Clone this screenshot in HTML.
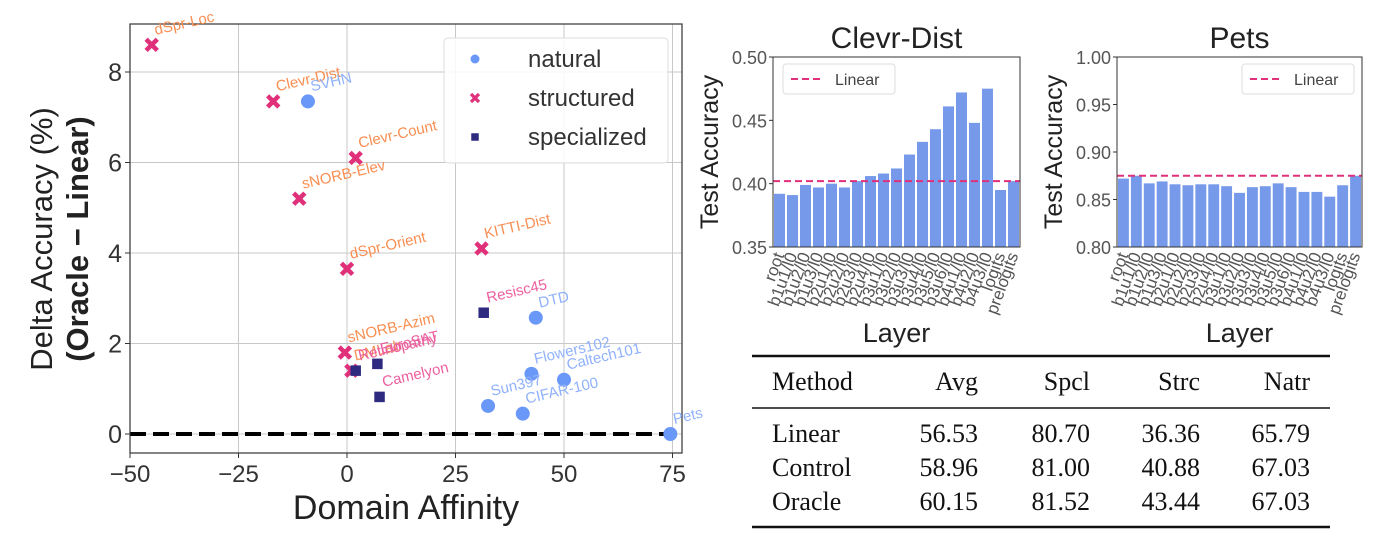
<!DOCTYPE html>
<html><head><meta charset="utf-8">
<style>
body{margin:0;background:#fff;width:1390px;height:546px;overflow:hidden;}
svg{position:absolute;left:0;top:0;}
text{font-family:"Liberation Sans","DejaVu Sans",sans-serif;}
.serif{font-family:"Liberation Serif",serif;}
</style></head>
<body>
<svg id="fig" width="1390" height="546" viewBox="0 0 1390 546"></svg>
<script>
// ---- scatter data ----
const dsNames=["dSpr-Loc","Clevr-Dist","SVHN","Clevr-Count","sNORB-Elev","KITTI-Dist","dSpr-Orient","sNORB-Azim","DMLab","Retinopathy","EuroSAT","Camelyon","Resisc45","DTD","Flowers102","Caltech101","Sun397","CIFAR-100","Pets"];
const dsGroup=["structured","structured","natural","structured","structured","structured","structured","structured","structured","specialized","specialized","specialized","specialized","natural","natural","natural","natural","natural","natural"];
const dsAffinity=[-45,-17,-9,2,-11,31,0,-0.5,1,2,7,7.5,31.5,43.5,42.5,50,32.5,40.5,74.5];
const dsDelta=[8.6,7.35,7.35,6.1,5.2,4.1,3.65,1.8,1.4,1.4,1.55,0.82,2.68,2.57,1.33,1.2,0.62,0.45,0.0];
const xTicks=[-50,-25,0,25,50,75];
const yTicks=[0,2,4,6,8];
// ---- bar data ----
const layers=["root","b1u1/l0","b1u2/l0","b1u3/l0","b2u1/l0","b2u2/l0","b2u3/l0","b2u4/l0","b3u1/l0","b3u2/l0","b3u3/l0","b3u4/l0","b3u5/l0","b3u6/l0","b4u1/l0","b4u2/l0","b4u3/l0","logits","prelogits"];
const clevrAcc=[0.392,0.391,0.399,0.397,0.400,0.397,0.402,0.406,0.408,0.412,0.423,0.433,0.443,0.461,0.472,0.448,0.475,0.395,0.402];
const clevrLinear=0.402;
const clevrTicks=[0.35,0.40,0.45,0.50];
const petsAcc=[0.872,0.875,0.867,0.869,0.866,0.865,0.866,0.866,0.864,0.857,0.863,0.864,0.867,0.863,0.858,0.858,0.853,0.865,0.875];
const petsLinear=0.875;
const petsTicks=[0.80,0.85,0.90,0.95,1.00];
// ---- table ----
const tblHead=["Method","Avg","Spcl","Strc","Natr"];
const tblRows=[["Linear","56.53","80.70","36.36","65.79"],["Control","58.96","81.00","40.88","67.03"],["Oracle","60.15","81.52","43.44","67.03"]];

const svg=document.getElementById('fig');
const NS="http://www.w3.org/2000/svg";
function mk(tag,attrs,parent,txt){const e=document.createElementNS(NS,tag);for(const k in attrs)e.setAttribute(k,attrs[k]);if(txt!==undefined)e.textContent=txt;(parent||svg).appendChild(e);return e;}

// ===== scatter =====
const L=130,R=682,T=24,B=453;
const sx=v=>347+v*(108.5/25);
const sy=v=>434-v*(90.5/2);
const gS=mk('g',{});


xTicks.forEach(t=>{const l=mk('line',{x1:sx(t),x2:sx(t),y1:T,y2:B,stroke:'#c8c8c8','stroke-width':1},gS);
 const tx=mk('text',{x:sx(t),y:482,'text-anchor':'middle','font-size':24,fill:'#333'},gS,(t<0?'\u2212':'')+Math.abs(t));
 mk('line',{x1:sx(t),x2:sx(t),y1:B,y2:B+5,stroke:'#333'},gS);});
yTicks.forEach(t=>{const l=mk('line',{x1:L,x2:R,y1:sy(t),y2:sy(t),stroke:'#c8c8c8','stroke-width':1},gS);
 const tx=mk('text',{x:L-8,y:sy(t)+9,'text-anchor':'end','font-size':25,fill:'#333'},gS,String(t));
 mk('line',{x1:L-5,x2:L,y1:sy(t),y2:sy(t),stroke:'#333'},gS);});
const zl=mk('line',{x1:L,x2:R,y1:sy(0),y2:sy(0),stroke:'#000','stroke-width':4,'stroke-dasharray':'16,7'},gS);

const fr=mk('rect',{x:L,y:T,width:R-L,height:B-T,fill:'none',stroke:'#333','stroke-width':1.2},gS);

const colMark={natural:'#6a98f8',structured:'#e0307a',specialized:'#2e2a80'};
const colLab={natural:'#8fb1fb',structured:'#f98e52',specialized:'#ec5f9e'};
function marker(g,grp,x,y,s){
 if(grp==='natural')return mk('circle',{cx:x,cy:y,r:s,fill:colMark.natural},g);
 if(grp==='specialized')return mk('rect',{x:x-s*0.75,y:y-s*0.75,width:s*1.5,height:s*1.5,fill:colMark.specialized},g);
 const d=s*0.8;return mk('path',{d:`M${x-d},${y-d}L${x+d},${y+d}M${x+d},${y-d}L${x-d},${y+d}`,stroke:colMark.structured,'stroke-width':s*0.65,fill:'none'},g);
}
dsNames.forEach((n,i)=>{
 const x=sx(dsAffinity[i]),y=sy(dsDelta[i]);
 const m=marker(gS,dsGroup[i],x,y,7);
 
 
 const t=mk('text',{x:x+4,y:y-10,'font-size':15,fill:colLab[dsGroup[i]],transform:`rotate(-13 ${x+4} ${y-10})`},gS,n);
 
 
});
// legend
const lg=mk('g',{});


mk('rect',{x:444,y:38,width:224,height:125,rx:4,fill:'#fff','fill-opacity':0.85,stroke:'#ddd'},lg);
[['natural',59],['structured',98],['specialized',137]].forEach(([g,y])=>{
 marker(lg,g,475,y,g==='natural'?4.5:5);
 const t=mk('text',{x:528,y:y+8,'font-size':24,fill:'#333'},lg,g);
 
 
});
let t1=mk('text',{x:406,y:519,'text-anchor':'middle','font-size':34,fill:'#222'},svg,'Domain Affinity');

let t2=mk('text',{x:0,y:0,'text-anchor':'middle','font-size':31,fill:'#222',transform:'translate(52 239) rotate(-90)'},svg,'Delta Accuracy (%)');

let t3=mk('text',{x:0,y:0,'text-anchor':'middle','font-size':31,'font-weight':'bold',fill:'#222',transform:'translate(88 239) rotate(-90)'},svg,'(Oracle \u2212 Linear)');


// ===== bar charts =====
function barChart(name,title,x0,x1,vals,lin,ticks,legendRight){
 const top=57,bot=247,lo=ticks[0],hi=ticks[ticks.length-1];
 const by=v=>bot-(v-lo)/(hi-lo)*(bot-top);
 const g=mk('g',{});
 
 
 const n=vals.length,step=(x1-x0)/n;
 vals.forEach((v,i)=>{const r=mk('rect',{x:x0+i*step+1,y:by(v),width:step-2,height:bot-by(v),fill:'#7699ea'},g);
  
  const lx=x0+(i+0.5)*step+5,ly=bot+8;
  const t=mk('text',{x:lx,y:ly,'text-anchor':'end','font-size':17,fill:'#555',transform:`rotate(-70 ${lx} ${ly})`},g,layers[i]);
  });
 const ll=mk('line',{x1:x0,x2:x1,y1:by(lin),y2:by(lin),stroke:'#e0307a','stroke-width':2,'stroke-dasharray':'7,4'},g);
 
 mk('rect',{x:x0,y:top,width:x1-x0,height:bot-top,fill:'none',stroke:'#333','stroke-width':1},g);
 ticks.forEach(t=>{mk('line',{x1:x0-4,x2:x0,y1:by(t),y2:by(t),stroke:'#333'},g);
  const tx=mk('text',{x:x0-6,y:by(t)+7,'text-anchor':'end','font-size':18,fill:'#555'},g,t.toFixed(2));
  });
 const lx=legendRight?x1-120:x0+10;
 const lgd=mk('g',{},g);
 mk('rect',{x:lx,y:64,width:112,height:30,rx:3,fill:'#fff',stroke:'#ddd'},lgd);
 mk('line',{x1:lx+8,x2:lx+40,y1:79,y2:79,stroke:'#e0307a','stroke-width':2,'stroke-dasharray':'7,4'},lgd);
 mk('text',{x:lx+52,y:85,'font-size':16,fill:'#444'},lgd,'Linear');
 const tt=mk('text',{x:(x0+x1)/2,y:48,'text-anchor':'middle','font-size':30,fill:'#222'},g,title);
 
 const xa=mk('text',{x:(x0+x1)/2,y:342,'text-anchor':'middle','font-size':27,fill:'#222'},g,'Layer');
 
 const ya=mk('text',{x:0,y:0,'text-anchor':'middle','font-size':25,fill:'#222',transform:`translate(${x0-55} ${(top+bot)/2}) rotate(-90)`},g,'Test Accuracy');
 
}
barChart('clevr-dist-chart','Clevr-Dist',773,1020,clevrAcc,clevrLinear,clevrTicks,false);
barChart('pets-chart','Pets',1117,1362,petsAcc,petsLinear,petsTicks,true);

// ===== table =====
const tg=mk('g',{});


mk('line',{x1:752,x2:1330,y1:356,y2:356,stroke:'#111','stroke-width':2.5},tg);
mk('line',{x1:752,x2:1330,y1:408,y2:408,stroke:'#111','stroke-width':1.5},tg);
mk('line',{x1:752,x2:1330,y1:527,y2:527,stroke:'#111','stroke-width':2.5},tg);
const colX=[772,978,1090,1200,1310];
function row(cells,y,nm){cells.forEach((c,j)=>{const t=mk('text',{x:colX[j],y:y,'text-anchor':j?'end':'start','font-size':26,fill:'#111',class:'serif'},tg,c);
 });}
row(tblHead,390,'table-header-cell');
tblRows.forEach((r,i)=>row(r,442+i*34,'table-cell'));
</script>
</body></html>
